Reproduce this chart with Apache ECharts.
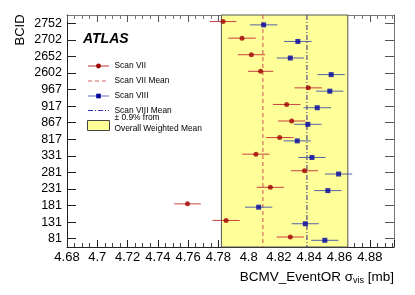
<!DOCTYPE html>
<html>
<head>
<meta charset="utf-8">
<script src="https://cdn.jsdelivr.net/npm/echarts@6/dist/echarts.min.js"></script>
<style>
html,body{margin:0;padding:0;background:#fff;}
#chart{width:415px;height:295px;}
</style>
</head>
<body>
<div id="chart"></div>
<script>
// ---- data ----
const bcid = ['2752','2702','2652','2602','967','917','867','817','331','281','231','181','131','81'];
const scan7 = [4.7831, 4.7956, 4.8018, 4.8079, 4.8394, 4.8251, 4.8284, 4.8205, 4.8048, 4.8369, 4.8143, 4.7596, 4.7851, 4.8275];
const scan7Err = [0.0088, 0.0091, 0.0090, 0.0084, 0.0091, 0.0091, 0.0090, 0.0090, 0.0090, 0.0090, 0.0090, 0.0088, 0.0090, 0.0090];
const scan8 = [4.8099, 4.8325, 4.8275, 4.8545, 4.8536, 4.8453, 4.8391, 4.8321, 4.8418, 4.8594, 4.8523, 4.8066, 4.8374, 4.8503];
const scan8Err = [0.0091, 0.0091, 0.0090, 0.0090, 0.0090, 0.0091, 0.0091, 0.0090, 0.0090, 0.0090, 0.0090, 0.0090, 0.0090, 0.0090];
const scan7Mean = 4.8094;
const scan8Mean = 4.8385;
const bandLow = 4.782;
const bandHigh = 4.8655;
const xMin = 4.68, xMax = 4.896, xStep = 0.02;

const FONT = 'Liberation Sans, Arial, Helvetica, sans-serif';
const LEG = '8.4px ' + FONT;
const RED = '#a00000', RED_ERR = '#c84040';
const BLUE = '#0000a0', BLUE_ERR = '#5464a8';
const OFF7 = -1.7, OFF8 = 1.6;

function xLabel(v) {
  const r = v / xStep;
  if (Math.abs(r - Math.round(r)) > 1e-6) return '';
  return String(parseFloat(v.toFixed(2)));
}

const chart = echarts.init(document.getElementById('chart'), null, {renderer: 'canvas'});

function errItem(color, off) {
  return function (params, api) {
    const x = api.value(0), idx = api.value(1), e = api.value(2);
    const p1 = api.coord([x - e, idx]);
    const p2 = api.coord([x + e, idx]);
    return {
      type: 'line',
      shape: {x1: p1[0], y1: p1[1] + off, x2: p2[0], y2: p2[1] + off},
      style: {stroke: color, lineWidth: 1}
    };
  };
}

function vline(color, dash) {
  return function (params, api) {
    const p = api.coord([api.value(0), 0]);
    const cs = params.coordSys;
    return {
      type: 'line',
      shape: {x1: p[0], y1: cs.y, x2: p[0], y2: cs.y + cs.height},
      style: {stroke: color, lineWidth: 1, lineDash: dash}
    };
  };
}

const option = {
  animation: false,
  backgroundColor: '#fff',
  grid: {left: 67, right: 21, top: 15, bottom: 48, containLabel: false},
  xAxis: [{
    type: 'value', min: xMin, max: xMax, interval: xStep, position: 'bottom',
    axisLine: {show: true, onZero: false, lineStyle: {color: '#222', width: 1}},
    axisTick: {show: true, inside: true, length: 7, lineStyle: {color: '#222'}},
    minorTick: {show: true, splitNumber: 4, length: 4, lineStyle: {color: '#444'}},
    splitLine: {show: false},
    axisLabel: {show: true, formatter: xLabel, fontFamily: FONT, fontSize: 13, color: '#000', margin: 4, showMaxLabel: false}
  }, {
    type: 'value', min: xMin, max: xMax, interval: xStep, position: 'top',
    axisLine: {show: true, onZero: false, lineStyle: {color: '#777', width: 1}},
    axisTick: {show: true, inside: true, length: 7, lineStyle: {color: '#555'}},
    minorTick: {show: true, splitNumber: 4, length: 4, lineStyle: {color: '#777'}},
    splitLine: {show: false},
    axisLabel: {show: false}
  }],
  yAxis: [{
    type: 'category', data: bcid, inverse: true, position: 'left', boundaryGap: true,
    axisLine: {show: true, onZero: false, lineStyle: {color: '#222', width: 1}},
    axisTick: {show: true, inside: true, length: 9, interval: 0, alignWithLabel: true, lineStyle: {color: '#222'}},
    axisLabel: {show: true, interval: 0, fontFamily: FONT, fontSize: 12.5, color: '#000', margin: 5},
    splitLine: {show: false}
  }, {
    type: 'category', data: bcid, inverse: true, position: 'right', boundaryGap: true,
    axisLine: {show: true, onZero: false, lineStyle: {color: '#777', width: 1}},
    axisTick: {show: true, inside: true, length: 9, interval: 0, alignWithLabel: true, lineStyle: {color: '#555'}},
    axisLabel: {show: false},
    splitLine: {show: false}
  }],
  series: [
    {
      type: 'custom', z: 1, silent: true,
      encode: {x: [0, 1], y: 2},
      data: [[bandLow, bandHigh, 0]],
      renderItem: function (params, api) {
        const a = api.coord([api.value(0), 0])[0];
        const b = api.coord([api.value(1), 0])[0];
        const cs = params.coordSys;
        return {
          type: 'rect',
          shape: {x: a, y: cs.y, width: b - a, height: cs.height},
          style: {fill: '#ffff99', stroke: '#555', lineWidth: 1}
        };
      }
    },
    {
      type: 'custom', z: 2, silent: true, encode: {x: 0, y: 1},
      data: [[scan7Mean, 0]], renderItem: vline('#d05050', [4, 3])
    },
    {
      type: 'custom', z: 2, silent: true, encode: {x: 0, y: 1},
      data: [[scan8Mean, 0]], renderItem: vline('#2a2a80', [5, 2, 1, 2])
    },
    {
      type: 'custom', z: 3, silent: true, encode: {x: 0, y: 1},
      data: scan7.map((v, i) => [v, i, scan7Err[i]]), renderItem: errItem(RED_ERR, OFF7)
    },
    {
      type: 'custom', z: 3, silent: true, encode: {x: 0, y: 1},
      data: scan8.map((v, i) => [v, i, scan8Err[i]]), renderItem: errItem(BLUE_ERR, OFF8)
    },
    {
      type: 'scatter', z: 4, silent: true, symbol: 'circle', symbolSize: 5, symbolOffset: [0, OFF7],
      itemStyle: {color: RED},
      data: scan7.map((v, i) => [v, i])
    },
    {
      type: 'scatter', z: 4, silent: true, symbol: 'rect', symbolSize: 5, symbolOffset: [0, OFF8],
      itemStyle: {color: BLUE},
      data: scan8.map((v, i) => [v, i])
    }
  ],
  graphic: [
    {type: 'text', x: 20, y: 30, rotation: Math.PI / 2, silent: true,
     style: {text: 'BCID', font: '13px ' + FONT, fill: '#000', align: 'center', verticalAlign: 'middle'}},
    {type: 'text', x: 394, y: 277, silent: true,
     style: {text: 'BCMV_EventOR σ{sub|vis} [mb]', font: '13.5px ' + FONT, fill: '#000', align: 'right', verticalAlign: 'middle',
       rich: {sub: {fontSize: 9, fontFamily: FONT, padding: [7, 0, 0, 0], verticalAlign: 'bottom'}}}},
    {type: 'text', x: 83, y: 39, silent: true, z: 10,
     style: {text: 'ATLAS', font: 'italic bold 14px ' + FONT, fill: '#000', verticalAlign: 'middle'}},
    // legend
    {type: 'line', silent: true, z: 10, shape: {x1: 88, y1: 66, x2: 109, y2: 66}, style: {stroke: '#b83030', lineWidth: 1}},
    {type: 'circle', silent: true, z: 10, shape: {cx: 98.5, cy: 66, r: 2.4}, style: {fill: RED}},
    {type: 'text', silent: true, z: 10, x: 114.5, y: 66, style: {text: 'Scan VII', font: LEG, fill: '#000', verticalAlign: 'middle'}},
    {type: 'line', silent: true, z: 10, shape: {x1: 88, y1: 81, x2: 109, y2: 81}, style: {stroke: '#d06060', lineWidth: 1, lineDash: [4, 3]}},
    {type: 'text', silent: true, z: 10, x: 114.5, y: 81, style: {text: 'Scan VII Mean', font: LEG, fill: '#000', verticalAlign: 'middle'}},
    {type: 'line', silent: true, z: 10, shape: {x1: 88, y1: 96, x2: 109, y2: 96}, style: {stroke: '#6070c0', lineWidth: 1}},
    {type: 'rect', silent: true, z: 10, shape: {x: 96.2, y: 93.7, width: 4.6, height: 4.6}, style: {fill: BLUE}},
    {type: 'text', silent: true, z: 10, x: 114.5, y: 96, style: {text: 'Scan VIII', font: LEG, fill: '#000', verticalAlign: 'middle'}},
    {type: 'line', silent: true, z: 10, shape: {x1: 88, y1: 110.5, x2: 109, y2: 110.5}, style: {stroke: '#3030b0', lineWidth: 1, lineDash: [5, 2, 1, 2]}},
    {type: 'text', silent: true, z: 10, x: 114.5, y: 110.5, style: {text: 'Scan VIII Mean', font: LEG, fill: '#000', verticalAlign: 'middle'}},
    {type: 'rect', silent: true, z: 10, shape: {x: 87.5, y: 120.5, width: 22, height: 10}, style: {fill: '#ffff99', stroke: '#444', lineWidth: 1}},
    {type: 'text', silent: true, z: 10, x: 114.5, y: 118, style: {text: '± 0.9% from', font: LEG, fill: '#000', verticalAlign: 'middle'}},
    {type: 'text', silent: true, z: 10, x: 114.5, y: 128.3, style: {text: 'Overall Weighted Mean', font: LEG, fill: '#000', verticalAlign: 'middle'}}
  ]
};
chart.setOption(option);
</script>
</body>
</html>
